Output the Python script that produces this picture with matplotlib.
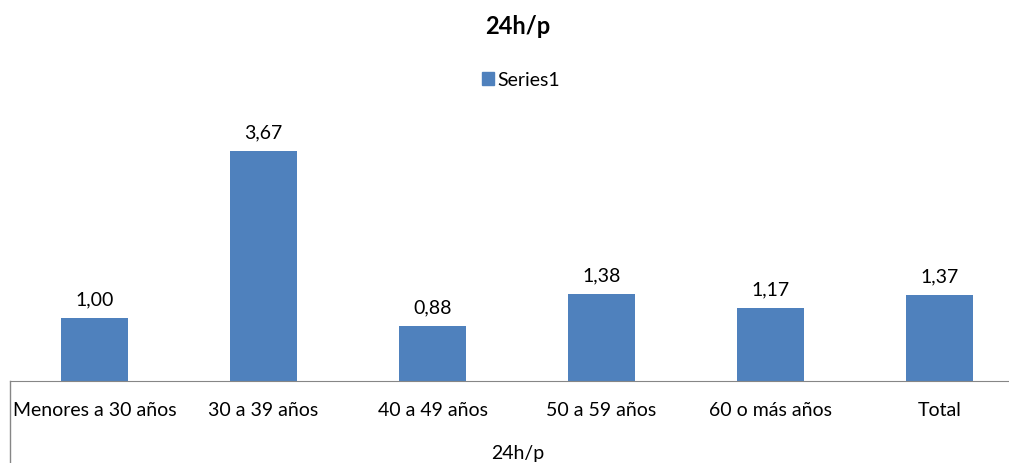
import matplotlib
matplotlib.use("Agg")
import matplotlib.pyplot as plt
from matplotlib.lines import Line2D
from matplotlib.patches import Patch

# Age groups and 24h/p rate per group
categories = ["Menores a 30 años", "30 a 39 años", "40 a 49 años",
              "50 a 59 años", "60 o más años", "Total"]
values = [1.00, 3.67, 0.88, 1.38, 1.17, 1.37]
labels = ["1,00", "3,67", "0,88", "1,38", "1,17", "1,37"]

BAR_COLOR = "#4F81BD"
AXIS_COLOR = "#868686"
FS = 14

plt.rcParams["font.family"] = ["Lato", "DejaVu Sans"]

fig = plt.figure(figsize=(10.09, 4.63), dpi=100)
W, H = 1009, 463

# plot area in pixels: baseline at y=381, one category is ~169 px wide
left_px, base_px, cat_w, unit_px, ymax = 10, 381, 169, 62.7, 4.0
top_px = base_px - ymax * unit_px
ax = fig.add_axes([left_px / W, (H - base_px) / H,
                   6 * cat_w / W, (base_px - top_px) / H])

x = range(len(categories))
ax.bar(x, values, width=0.4, color=BAR_COLOR)
for xi, v, lab in zip(x, values, labels):
    ax.annotate(lab, (xi, v), xytext=(0, 7), textcoords="offset points",
                ha="center", va="bottom", fontsize=FS)

ax.set_xlim(-0.5, len(categories) - 0.5)
ax.set_ylim(0, ymax)
ax.set_yticks([])
ax.set_xticks(list(x))
ax.set_xticklabels(categories, fontsize=FS)
ax.tick_params(axis="x", length=0, pad=15)
for s in ["top", "right", "left"]:
    ax.spines[s].set_visible(False)
ax.spines["bottom"].set_color(AXIS_COLOR)

# left edge line running down past the category labels
fig.add_artist(Line2D([left_px / W, left_px / W], [0, (H - base_px) / H],
                      color=AXIS_COLOR, linewidth=1))

fig.text(518 / W, 1 - 26 / H, "24h/p", ha="center", va="center",
         fontsize=17, fontweight="bold")
fig.text(518 / W, 1 - 453 / H, "24h/p", ha="center", va="center",
         fontsize=FS)

fig.legend(handles=[Patch(color=BAR_COLOR, label="Series1")],
           loc="center", bbox_to_anchor=(521 / W, 1 - 80 / H),
           frameon=False, fontsize=FS, handlelength=0.6, handleheight=0.6,
           handletextpad=0.2)

fig.savefig("out.png", dpi=100)
